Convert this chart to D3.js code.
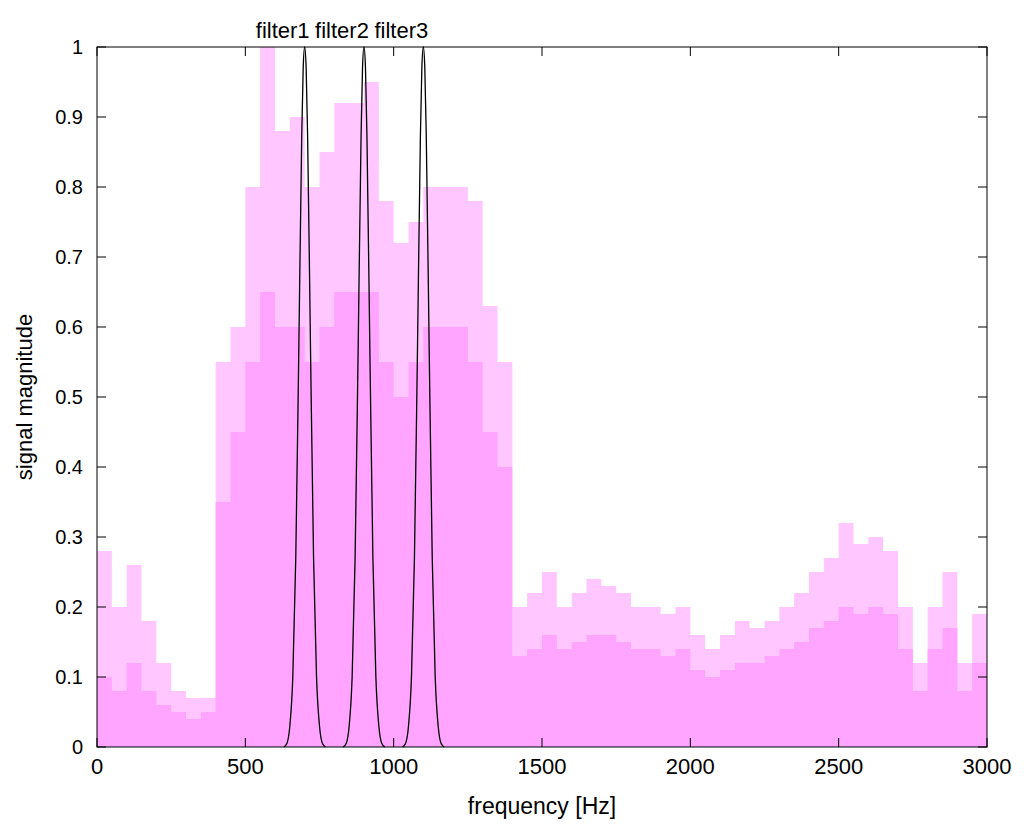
<!DOCTYPE html>
<html><head><meta charset="utf-8">
<script src="https://cdn.jsdelivr.net/npm/d3@7"></script>
<style>body{margin:0;background:#fff}text{font-family:"Liberation Sans",Arial,sans-serif}</style>
</head><body>
<script>
// signal envelope sampled every 50 Hz, 0..3000
const freqs = d3.range(0, 3001, 50);
const peakLevel = [0.28,0.2,0.26,0.18,0.12,0.08,0.07,0.07,0.55,0.6,0.8,1.0,0.88,0.9,0.8,0.85,0.92,0.92,0.95,0.78,0.72,0.75,0.8,0.8,0.8,0.78,0.63,0.55,0.2,0.22,0.25,0.2,0.22,0.24,0.23,0.22,0.2,0.2,0.19,0.2,0.16,0.14,0.16,0.18,0.17,0.18,0.2,0.22,0.25,0.27,0.32,0.29,0.3,0.28,0.2,0.12,0.2,0.25,0.12,0.19,0.2];
const typicalLevel = [0.1,0.08,0.12,0.08,0.06,0.05,0.04,0.05,0.35,0.45,0.55,0.65,0.6,0.6,0.55,0.6,0.65,0.65,0.65,0.55,0.5,0.55,0.6,0.6,0.6,0.55,0.45,0.4,0.13,0.14,0.16,0.14,0.15,0.16,0.16,0.15,0.14,0.14,0.13,0.14,0.11,0.1,0.11,0.12,0.12,0.13,0.14,0.15,0.17,0.18,0.2,0.19,0.2,0.19,0.14,0.08,0.14,0.17,0.08,0.12,0.13];
// filter shapes
const filterCenters = [700, 900, 1100];
const filterNames = ["filter1", "filter2", "filter3"];
const filterOffsets = [-70,-60,-50,-40,-30,-20,-10,-5,0,5,10,20,30,40,50,60,70];
const filterGain = [0,0.005,0.03,0.1,0.27,0.56,0.87,0.97,1,0.97,0.87,0.56,0.27,0.1,0.03,0.005,0];
const xTicks = [0,500,1000,1500,2000,2500,3000];
const yTicks = d3.range(0, 1.01, 0.1);

const W = 1024, H = 832, m = {l: 97, r: 37, t: 47, b: 85};
const svg = d3.select("body").append("svg").attr("width", W).attr("height", H);
const x = d3.scaleLinear().domain([0, 3000]).range([m.l, W - m.r]);
const y = d3.scaleLinear().domain([0, 1]).range([H - m.b, m.t]);

const area = vals => d3.area().x((d, i) => x(freqs[i])).y0(y(0)).y1(d => y(d)).curve(d3.curveStepAfter)(vals);
svg.append("path").attr("d", area(peakLevel)).attr("fill", "#ffc6ff");
svg.append("path").attr("d", area(typicalLevel)).attr("fill", "#ffa4ff");

const line = d3.line().curve(d3.curveMonotoneX);
filterCenters.forEach((c, k) => {
  svg.append("path")
    .attr("d", line(filterOffsets.map((o, i) => [x(c + o), y(filterGain[i])])))
    .attr("fill", "none").attr("stroke", "#000").attr("stroke-width", 1.3);
  svg.append("text").attr("x", x(c) - 22).attr("y", y(1) - 9)
    .attr("text-anchor", "middle").attr("font-size", 22).text(filterNames[k]);
});

// box and ticks
svg.append("rect").attr("x", m.l).attr("y", m.t).attr("width", W - m.l - m.r).attr("height", H - m.t - m.b)
  .attr("fill", "none").attr("stroke", "#000");
const tl = 9;
xTicks.forEach(t => {
  svg.append("line").attr("x1", x(t)).attr("x2", x(t)).attr("y1", y(0)).attr("y2", y(0) - tl).attr("stroke", "#000");
  svg.append("line").attr("x1", x(t)).attr("x2", x(t)).attr("y1", y(1)).attr("y2", y(1) + tl).attr("stroke", "#000");
  svg.append("text").attr("x", x(t)).attr("y", y(0) + 27).attr("text-anchor", "middle").attr("font-size", 22).text(t);
});
yTicks.forEach(t => {
  svg.append("line").attr("x1", x(0)).attr("x2", x(0) + tl).attr("y1", y(t)).attr("y2", y(t)).attr("stroke", "#000");
  svg.append("line").attr("x1", x(3000)).attr("x2", x(3000) - tl).attr("y1", y(t)).attr("y2", y(t)).attr("stroke", "#000");
  svg.append("text").attr("x", x(0) - 14).attr("y", y(t) + 7).attr("text-anchor", "end").attr("font-size", 20)
    .text(d3.format("~g")(+t.toFixed(1)));
});
svg.append("text").attr("x", (m.l + W - m.r) / 2).attr("y", H - 18).attr("text-anchor", "middle").attr("font-size", 23).text("frequency [Hz]");
svg.append("text").attr("transform", `translate(32,${(m.t + H - m.b) / 2}) rotate(-90)`).attr("text-anchor", "middle").attr("font-size", 22).text("signal magnitude");
</script>
</body></html>
